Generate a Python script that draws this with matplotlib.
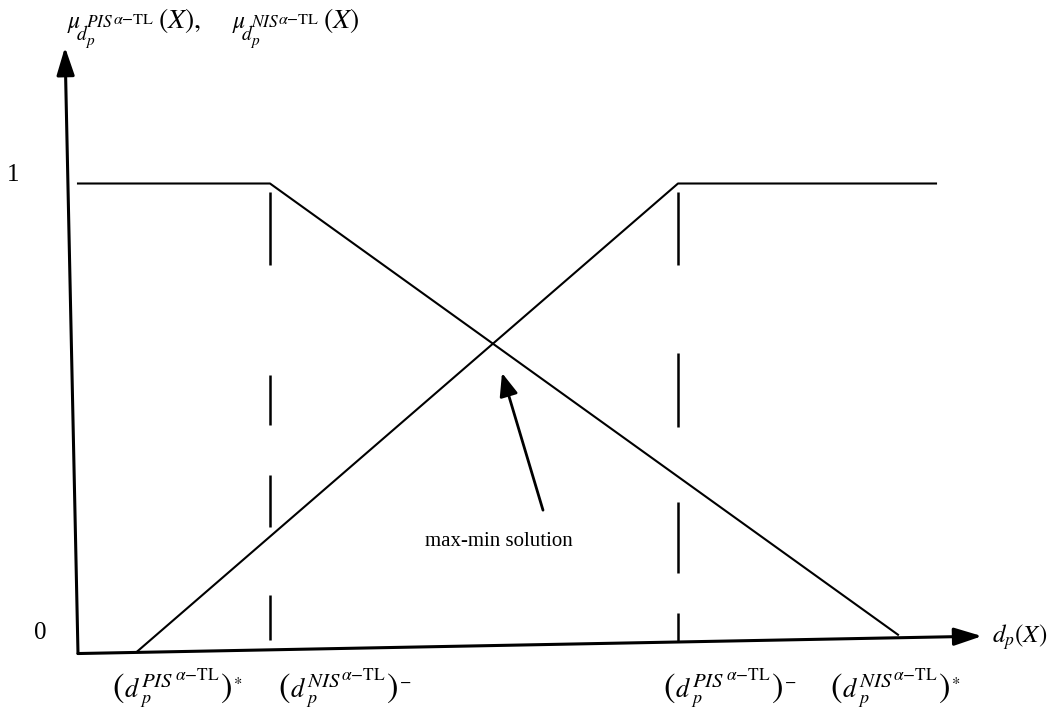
import matplotlib
matplotlib.use("Agg")
import matplotlib.pyplot as plt

plt.rcParams['font.family'] = ['Liberation Serif', 'DejaVu Serif']
plt.rcParams['mathtext.fontset'] = 'stix'

# diagram coordinates: x = d_p(X) position, y = membership degree
origin = (78, 0.0)
x_axis_tip = (982, 0.037)
y_axis_tip = (65, 1.290)

# falling membership function
fall_x = [78, 270, 898]
fall_mu = [1.0, 1.0, 0.04]

# rising membership function
rise_x = [137, 678, 936]
rise_mu = [0.004, 1.0, 1.0]

# dashed guide lines (pieces from top to bottom)
guide_x = [270, 678]
guide_pieces = [
    [(0.982, 0.827), (0.593, 0.486), (0.380, 0.269), (0.124, 0.029)],
    [(0.982, 0.827), (0.639, 0.482), (0.322, 0.171), (0.086, 0.027)],
]

# arrow to the crossing point
maxmin_tail = (543, 0.305)
maxmin_tip = (502, 0.597)

tick_labels = ['1', '0']
tick_pos = [(13, 1.019), (40, 0.044)]

# bottom labels: set name and the mark after the bracket
bottom_sets = ['PIS', 'NIS', 'PIS', 'NIS']
bottom_marks = [r'$^{*}$', r'$^{-}$', r'$^{-}$', r'$^{*}$']
bottom_x = [112, 278, 663, 830]
bottom_y = -0.0926

px = 0.72  # points per pixel at dpi 100


def stacked(ax, x, y, parts):
    # parts: (dx, dy, text, size) in pixels, dy measured downward
    for dx, dy, s, size in parts:
        ax.annotate(s, xy=(x, y), xycoords='data',
                    xytext=(dx * px, -dy * px), textcoords='offset points',
                    fontsize=size, ha='left', va='baseline')


fig = plt.figure(figsize=(10.51, 7.09), dpi=100)
ax = fig.add_axes([0, 0, 1, 1])
ax.set_xlim(0, 1051)
ax.set_ylim(-0.118, 1.3904)
ax.axis('off')

# axes with arrow heads
axis_style = dict(arrowstyle='-|>,head_length=1.0,head_width=0.32',
                  color='black', lw=2.2, shrinkA=0, shrinkB=0,
                  mutation_scale=17)
ax.annotate('', xy=x_axis_tip, xytext=origin, arrowprops=axis_style)
ax.annotate('', xy=y_axis_tip, xytext=origin, arrowprops=axis_style)

ax.plot(fall_x, fall_mu, color='black', lw=1.5)
ax.plot(rise_x, rise_mu, color='black', lw=1.5)

for gx, pieces in zip(guide_x, guide_pieces):
    for top, bot in pieces:
        ax.plot([gx, gx], [top, bot], color='black', lw=1.8,
                solid_capstyle='butt')

ax.annotate('', xy=maxmin_tip, xytext=maxmin_tail,
            arrowprops=dict(arrowstyle='-|>,head_length=1.0,head_width=0.4',
                            color='black', lw=2.0, shrinkA=0, shrinkB=0,
                            mutation_scale=14))
ax.text(499, 0.239, 'max-min solution', fontsize=15,
        ha='center', va='center')

for lab, (tx, ty) in zip(tick_labels, tick_pos):
    ax.text(tx, ty, lab, fontsize=18, ha='center', va='center')

ax.text(1020, 0.036, r'$d_p(X)$', fontsize=18, ha='center', va='center')

# bracketed bottom labels
for name, mark, bx in zip(bottom_sets, bottom_marks, bottom_x):
    stacked(ax, bx, bottom_y, [
        (0, 0, r'$($', 25),
        (12, 0, r'$d$', 19),
        (28, 6, r'$p$', 13),
        (29, -10, '$' + name + '$', 15),
        (63, -17, r'$\alpha\mathrm{-TL}$', 12.5),
        (108, 0, r'$)$', 25),
        (121, -2, mark, 17),
    ])

# y-axis title
title_parts = []
for dx, name in [(0, 'PIS'), (165, 'NIS')]:
    title_parts += [
        (dx, 0, r'$\mu$', 17),
        (dx + 9, 12, r'$d$', 14),
        (dx + 18, 17, r'$p$', 11),
        (dx + 19, -1, '$' + name + '$', 12.5),
        (dx + 46, -4, r'$\alpha\mathrm{-TL}$', 11.5),
    ]
title_parts += [(91, 0, r'$(X),$', 20), (256, 0, r'$(X)$', 20)]
stacked(ax, 67, 1.3309, title_parts)

fig.savefig('out.png', dpi=100)
